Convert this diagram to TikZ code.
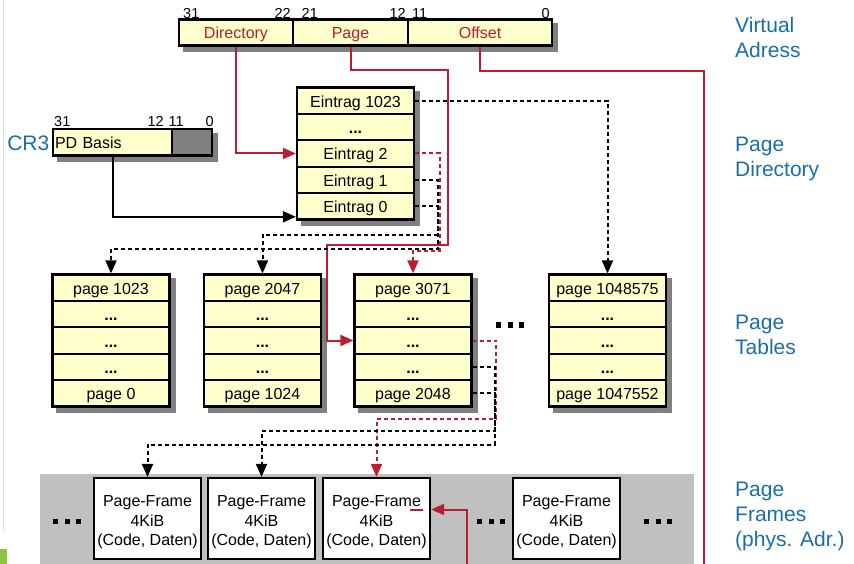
\documentclass[tikz,border=0pt]{standalone}
\usepackage{fontspec}
\setmainfont{Liberation Sans}
\usetikzlibrary{arrows.meta}
\definecolor{boxyellow}{RGB}{255,255,204}
\definecolor{arrred}{RGB}{185,30,50}
\definecolor{lblblue}{RGB}{25,110,170}
\definecolor{shadowgray}{RGB}{128,128,128}
\definecolor{framebg}{RGB}{192,192,192}
\definecolor{edgegreen}{RGB}{140,198,63}
\pgfdeclarelayer{background}
\pgfsetlayers{background,main}
\newcommand{\tripledots}[2]{%
  \foreach \k in {0,1,2} {\fill[black] ({#1+\k*11.5},{#2-2.6}) rectangle ++(5.2,5.2);}}
\begin{document}
\begin{tikzpicture}[x=1pt,y=-1pt,
  every node/.style={font=\fontsize{16}{19.5}\selectfont, inner sep=0pt},
  cell/.style={draw, line width=2.2pt, fill=boxyellow, minimum width=117pt, minimum height=26.4pt, text height=13pt, text depth=0pt},
  field/.style={draw, line width=2.2pt, fill=boxyellow, minimum height=26pt, text height=13pt, text depth=0pt, text=arrred},
  bitnum/.style={font=\fontsize{14.5}{17}\selectfont},
  frm/.style={draw, line width=2.2pt, fill=white, minimum width=107pt, minimum height=81pt, align=center},
  lbl/.style={font=\fontsize{21}{25}\selectfont, text=lblblue, align=left},
  tip/.style={-{Triangle[length=13pt,width=11pt]}},
  conn/.style={line width=2pt},
  dsh/.style={line width=2pt, dash pattern=on 4pt off 3pt},
  shd/.style={fill=shadowgray}
]
\useasboundingbox (0,0) rectangle (854,564);

% slide edge artefacts
\draw[gray!25, line width=1pt] (3.5,0) -- (3.5,531);
\fill[edgegreen] (0,549) rectangle (7,564);

% ---------- virtual address ----------
\node[field, minimum width=114pt] (dirf) at (236,32.5) {Directory};
\node[field, minimum width=115pt] (pagef) at (350.5,32.5) {Page};
\node[field, minimum width=144pt] (offf) at (480,32.5) {Offset};
\node[bitnum, anchor=base west] (b31) at (183,18.5) {31};
\node[bitnum, anchor=base east] (b22) at (291,18.5) {22};
\node[bitnum, anchor=base west] (b21) at (301.5,18.5) {21};
\node[bitnum, anchor=base east] (b12) at (406,18.5) {12};
\node[bitnum, anchor=base west] (b11) at (412,18.5) {11};
\node[bitnum, anchor=base east] (b0) at (550,18.5) {0};

% ---------- CR3 ----------
\node[draw, line width=2.2pt, fill=boxyellow, minimum height=26.5pt, text width=115pt, inner xsep=2pt, align=left, text height=13pt, text depth=0pt] (cr3a) at (112.5,142.25) {PD Basis};
\node[draw, line width=2.2pt, fill=shadowgray, minimum height=26.5pt, minimum width=40pt] (cr3b) at (192,142.25) {};
\node[font=\fontsize{21}{25}\selectfont, text=lblblue, anchor=east] (cr3l) at (49.5,143) {CR3};
\node[bitnum, anchor=base west] (c31) at (54,127) {31};
\node[bitnum, anchor=base east] (c12) at (164,127) {12};
\node[bitnum, anchor=base west] (c11) at (168.5,127) {11};
\node[bitnum, anchor=base east] (c0) at (214,127) {0};

% ---------- page directory ----------
\node[cell] (pd4) at (355.5,100.7) {Eintrag 1023};
\node[cell] (pd3) at (355.5,127.1) {\textbf{...}};
\node[cell] (pd2) at (355.5,153.5) {Eintrag 2};
\node[cell] (pd1) at (355.5,179.9) {Eintrag 1};
\node[cell] (pd0) at (355.5,206.3) {Eintrag 0};

% ---------- page tables ----------
\foreach \n/\x/\top/\bot in {a/111/page 1023/page 0, b/262.5/page 2047/page 1024, c/413/page 3071/page 2048, d/607.5/page 1048575/page 1047552} {
  \node[cell] (pt\n0) at (\x,287.7) {\top};
  \node[cell] (pt\n1) at (\x,314.1) {\textbf{...}};
  \node[cell] (pt\n2) at (\x,340.5) {\textbf{...}};
  \node[cell] (pt\n3) at (\x,366.9) {\textbf{...}};
  \node[cell] (pt\n4) at (\x,393.3) {\bot};
}
\tripledots{496}{325}

% ---------- page frames ----------
\node[frm] (f1) at (147.5,518.5) {\rule{0pt}{18.5pt}Page-Frame\\4KiB\\(Code, Daten)};
\node[frm] (f2) at (261.5,518.5) {\rule{0pt}{18.5pt}Page-Frame\\4KiB\\(Code, Daten)};
\node[frm] (f3) at (376.5,518.5) {\rule{0pt}{18.5pt}Page-Frame\\4KiB\\(Code, Daten)};
\node[frm] (f4) at (566.5,518.5) {\rule{0pt}{18.5pt}Page-Frame\\4KiB\\(Code, Daten)};
\tripledots{53}{521.5}
\tripledots{477}{521.5}
\tripledots{644}{521.5}

% ---------- right labels ----------
\node[lbl, anchor=north west] (l1) at (735,17) {Virtual\\Adress};
\node[lbl, anchor=north west] (l2) at (735,137) {Page\\Directory};
\node[lbl, anchor=north west] (l3) at (735,315) {Page\\Tables};
\node[lbl, anchor=north west] (l4) at (735,482) {Page\\Frames\\(phys. Adr.)};

% ---------- background: shadows and memory strip ----------
\begin{pgfonlayer}{background}
\fill[framebg] (40,474) rectangle (694,564);
\fill[shd] ([shift={(5,5)}]dirf.north west) rectangle ([shift={(5,5)}]offf.south east);
\fill[shd] ([shift={(5,5)}]cr3a.north west) rectangle ([shift={(5,5)}]cr3b.south east);
\fill[shd] ([shift={(5,5)}]pd4.north west) rectangle ([shift={(5,5)}]pd0.south east);
\foreach \n in {a,b,c,d} {
  \fill[shd] ([shift={(5,5)}]pt\n0.north west) rectangle ([shift={(5,5)}]pt\n4.south east);
}
\end{pgfonlayer}

% ---------- connectors ----------
% CR3 -> page directory
\draw[conn, tip] (cr3a.south) |- ([yshift=-10.5pt]pd0.west);
% directory index
\draw[conn, tip, arrred] (dirf.south) |- (pd2.west);
% page index
\draw[conn, tip, arrred] (pagef.south) |- (447.5,70) |- (327,245) |- (ptc2.west);
% offset
\draw[conn, arrred] (offf.south) |- (703.5,71) -- (703.5,564);
\coordinate (ul) at (466.7,509.5);
\draw[conn, tip, arrred] (466.7,564) -- (ul) -- (f3.east |- ul);
\draw[conn, arrred] (410,509.5) -- (423,509.5);

% page directory entries -> page tables
\draw[dsh, tip] (pd4.east) -| (ptd0.north);
\draw[dsh, tip, arrred] (pd2.east) -| (439.5,251) -| (ptc0.north);
\draw[dsh, tip] (pd1.east) -| (437.5,235) -| (ptb0.north);
\draw[dsh, tip] (pd0.east) -| (437.5,249) -| (pta0.north);

% page table entries -> page frames
\draw[dsh, tip, arrred] (ptc2.east) -| (496,419) -| (f3.north);
\draw[dsh, tip] (ptc3.east) -| (494.5,431) -| (f2.north);
\draw[dsh, tip] (ptc4.east) -| (494.5,445) -| (f1.north);
\end{tikzpicture}
\end{document}
